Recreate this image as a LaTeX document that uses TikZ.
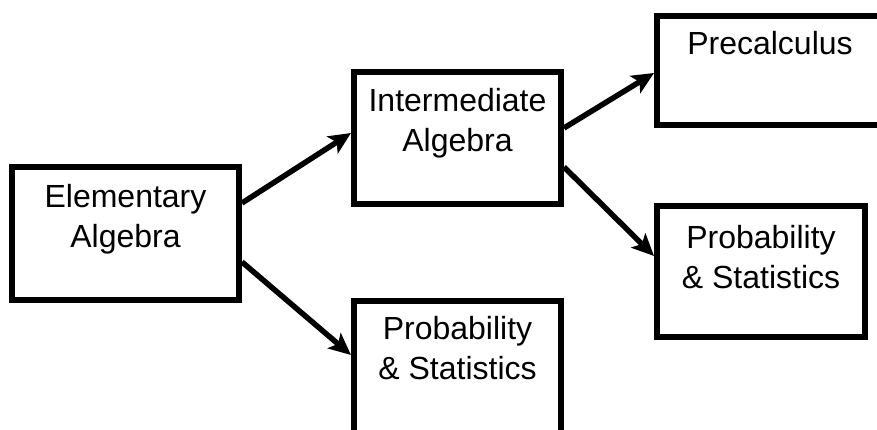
\documentclass[tikz,border=0pt]{standalone}
\usepackage{fontspec}
\setmainfont{Liberation Sans}
\usetikzlibrary{positioning,arrows.meta}

\begin{document}
\begin{tikzpicture}[x=1pt,y=-1pt,
  course/.style={draw,line width=6pt,inner sep=0pt},
  title/.style={inner sep=0pt,align=center,font=\fontsize{32}{40}\selectfont},
  prereq/.style={line width=5.5pt,-{Stealth[length=22pt,width=20pt,inset=5pt]}}]
\useasboundingbox (0,0) rectangle (877,430);
\clip (0,0) rectangle (877,430);
\node [course,minimum width=227pt,minimum height=133pt] (elem) at (125.5,233.5) {};
\node [course,minimum width=207pt,minimum height=132pt] (inter) at (457.5,138) {};
\node [course,minimum width=226pt,minimum height=109pt] (precalc) at (770,70.5) {};
\node [course,minimum width=208pt,minimum height=131pt] (probR) at (761,271.5) {};
\node [course,minimum width=207pt,minimum height=135pt] (probB) at (457.5,368.5) {};
\node [title,below=20.5pt of elem.north] (elemtext) {Elementary\\Algebra};
\node [title,below=19.5pt of inter.north] (intertext) {Intermediate\\Algebra};
\node [title,below=18.5pt of precalc.north] (precalctext) {Precalculus};
\node [title,below=22pt of probR.north] (probRtext) {Probability\\\& Statistics};
\node [title,below=18.5pt of probB.north] (probBtext) {Probability\\\& Statistics};
\draw [prereq] ([yshift=-39pt]elem.north east) -- ([yshift=-64pt]inter.north west);
\draw [prereq] ([yshift=-98pt]elem.north east) -- ([yshift=-57pt]probB.north west);
\draw [prereq] ([yshift=-59pt]inter.north east) -- ([yshift=-60pt]precalc.north west);
\draw [prereq] ([yshift=-98pt]inter.north east) -- ([yshift=-53pt]probR.north west);
\end{tikzpicture}
\end{document}
